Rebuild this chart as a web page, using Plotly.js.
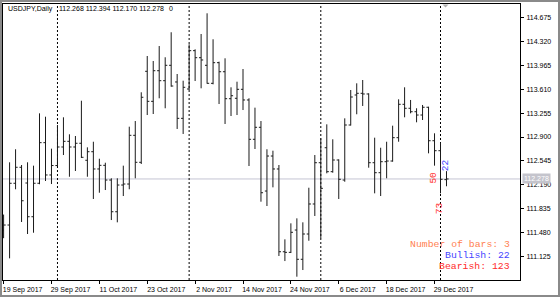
<!DOCTYPE html>
<html>
<head>
<meta charset="utf-8">
<script src="https://cdn.plot.ly/plotly-3.0.1.min.js"></script>
<style>
  html, body { margin: 0; padding: 0; background: #fff; }
  #wrap { position: relative; width: 560px; height: 297px; overflow: hidden; }
  #chart { position: absolute; left: 0; top: 0; width: 560px; height: 297px; }
  #frame { position: absolute; left: 0; top: 0; width: 560px; height: 297px; box-sizing: border-box;
           border: 2px solid #8a8a8a; pointer-events: none; }
</style>
</head>
<body>
<div id="wrap"><div id="chart"></div><div id="frame"></div></div>
<script>
// ---------------- DATA ----------------
const symbol = 'USDJPY';
const timeframe = 'Daily';
const headerTail = '0';

const dates = [
  '2017-09-19','2017-09-20','2017-09-21','2017-09-22','2017-09-25','2017-09-26','2017-09-27','2017-09-28','2017-09-29',
  '2017-10-02','2017-10-03','2017-10-04','2017-10-05','2017-10-06','2017-10-09','2017-10-10','2017-10-11','2017-10-12','2017-10-13',
  '2017-10-16','2017-10-17','2017-10-18','2017-10-19','2017-10-20','2017-10-23','2017-10-24','2017-10-25','2017-10-26','2017-10-27',
  '2017-10-30','2017-10-31',
  '2017-11-01','2017-11-02','2017-11-03','2017-11-06','2017-11-07','2017-11-08','2017-11-09','2017-11-10','2017-11-13','2017-11-14',
  '2017-11-15','2017-11-16','2017-11-17','2017-11-20','2017-11-21','2017-11-22','2017-11-23','2017-11-24','2017-11-27','2017-11-28',
  '2017-11-29','2017-11-30',
  '2017-12-01','2017-12-04','2017-12-05','2017-12-06','2017-12-07','2017-12-08','2017-12-11','2017-12-12','2017-12-13','2017-12-14',
  '2017-12-15','2017-12-18','2017-12-19','2017-12-20','2017-12-21','2017-12-22','2017-12-26','2017-12-27','2017-12-28','2017-12-29',
  '2018-01-02','2018-01-03'
];

const openP = [
  111.520,111.595,112.214,112.451,112.218,111.718,112.214,112.816,112.337,
  112.477,112.752,112.836,112.752,112.807,112.555,112.682,112.426,112.480,112.262,
  111.792,112.188,112.203,112.925,112.525,113.874,113.429,113.883,113.735,113.963,
  113.716,113.177,
  113.612,114.180,114.076,113.963,113.696,114.002,113.868,113.468,113.474,113.607,
  113.449,112.866,113.044,112.099,112.618,112.426,111.199,111.190,111.521,111.087,
  111.462,111.907,
  112.519,112.741,112.386,112.559,112.262,113.078,113.523,113.548,113.538,112.519,
  112.371,112.534,112.544,112.890,113.385,113.326,113.275,113.226,113.341,112.845,
  112.697,112.268
];
const highP = [
  111.750,112.525,112.718,112.485,112.525,112.475,113.251,113.201,112.727,
  113.078,113.192,112.940,112.915,113.438,112.747,112.830,112.578,112.519,112.288,
  112.288,112.475,113.053,113.137,113.563,114.101,114.027,114.249,114.082,114.453,
  113.834,113.735,
  114.275,114.200,114.427,114.734,114.349,114.017,114.067,113.637,113.720,113.908,
  113.474,113.335,113.137,112.718,112.697,112.485,111.383,111.620,111.694,111.635,
  112.148,112.633,
  112.881,113.088,112.866,112.569,113.177,113.597,113.696,113.745,113.548,112.890,
  112.741,112.830,113.068,113.459,113.637,113.449,113.326,113.375,113.349,112.955,
  112.816,112.394
];
const lowP = [
  111.400,111.101,112.125,111.640,111.462,111.481,112.200,112.248,112.203,
  112.470,112.633,112.311,112.396,112.589,112.311,111.981,112.074,112.114,111.669,
  111.635,112.025,112.125,112.288,112.500,113.226,113.241,113.474,113.326,113.646,
  113.019,112.945,
  113.597,113.730,113.622,113.690,113.681,113.389,113.093,113.211,113.226,113.300,
  112.470,112.722,111.941,111.877,112.154,111.136,111.061,111.180,110.829,110.928,
  111.362,111.729,
  111.398,112.362,112.371,111.981,112.237,113.070,113.237,113.360,112.445,112.065,
  112.025,112.288,112.534,112.830,113.192,113.251,113.118,113.152,112.658,112.475,
  112.065,112.170
];
const closeP = [
  111.595,112.214,112.451,111.955,111.718,112.214,112.816,112.337,112.477,
  112.752,112.836,112.752,112.807,112.599,112.682,112.426,112.480,112.262,111.792,
  112.188,112.203,112.925,112.525,113.489,113.429,113.883,113.735,113.963,113.656,
  113.177,113.637,
  114.180,114.076,114.042,113.696,114.002,113.868,113.468,113.512,113.607,113.449,
  112.866,113.044,112.074,112.618,112.426,111.199,111.190,111.487,111.087,111.462,
  111.907,112.519,
  112.139,112.386,112.559,112.273,113.078,113.493,113.548,113.538,112.519,112.371,
  112.534,112.544,112.890,113.385,113.326,113.275,113.226,113.341,112.845,112.697,
  112.273,112.278
];

const xTickDates  = ['2017-09-19','2017-09-29','2017-10-11','2017-10-23','2017-11-02','2017-11-14','2017-11-24','2017-12-06','2017-12-18','2017-12-29'];
const xTickLabels = ['19 Sep 2017','29 Sep 2017','11 Oct 2017','23 Oct 2017','2 Nov 2017','14 Nov 2017','24 Nov 2017','6 Dec 2017','18 Dec 2017','29 Dec 2017'];

const yTickVals   = [111.125, 111.480, 111.835, 112.190, 112.545, 112.900, 113.255, 113.610, 113.965, 114.320, 114.675];
const yTickLabels = ['111.125','111.480','111.835','112.190','112.545','112.900','113.255','113.610','113.965','114.320','114.675'];

const separatorDates = ['2017-10-02','2017-11-01','2017-12-01','2018-01-02'];

const statLabels = ['Number of bars', 'Bullish', 'Bearish'];
const statValues = [3, 22, 123];

const countLabels = ['50', '73', '22'];
const countDates  = ['2018-01-02', '2018-01-02', '2018-01-03'];

// ---------------- LAYOUT HELPERS ----------------
const W = 560, H = 297;
const M = { l: 3, r: 40, t: 4, b: 17 };
const PW = W - M.l - M.r, PH = H - M.t - M.b;
const px = x => (x - M.l) / PW;
const py = y => 1 - (y - M.t) / PH;

const last = closeP.length - 1;
const f3 = v => v.toFixed(3);

const trace = {
  type: 'ohlc',
  x: dates,
  open: openP, high: highP, low: lowP, close: closeP,
  increasing: { line: { color: '#1a1a1a', width: 1 } },
  decreasing: { line: { color: '#1a1a1a', width: 1 } },
  tickwidth: 0.35,
  hoverinfo: 'skip',
  showlegend: false
};

const shapes = [];
// current price line
shapes.push({ type: 'line', xref: 'paper', x0: 0, x1: 1, yref: 'y', y0: closeP[last], y1: closeP[last],
  line: { color: '#C4C4D4', width: 1 }, layer: 'below' });
// period separators
separatorDates.forEach(d => shapes.push({ type: 'line', xref: 'x', x0: d, x1: d, yref: 'paper', y0: 0, y1: 1,
  line: { color: '#000', width: 1, dash: '2px,2px' }, layer: 'below' }));
// chart shift marker
shapes.push({ type: 'path', xref: 'paper', yref: 'paper',
  path: `M ${px(442.5)} ${py(4.5)} L ${px(448.5)} ${py(4.5)} L ${px(445.5)} ${py(7.5)} Z`,
  fillcolor: '#B0B0B0', line: { width: 0 } });

const ann = [];
const hdrFont = { family: 'Liberation Sans, Arial, sans-serif', size: 7, color: '#000' };
ann.push({ xref: 'paper', yref: 'paper', x: px(6.5), y: py(9), xanchor: 'left', yanchor: 'middle',
  text: symbol + ',' + timeframe, showarrow: false, font: hdrFont, borderpad: 0 });
ann.push({ xref: 'paper', yref: 'paper', x: px(58), y: py(9), xanchor: 'left', yanchor: 'middle',
  text: [openP[last], highP[last], lowP[last], closeP[last]].map(f3).join(' '), showarrow: false, font: hdrFont, borderpad: 0 });
ann.push({ xref: 'paper', yref: 'paper', x: px(167.5), y: py(9), xanchor: 'left', yanchor: 'middle',
  text: headerTail, showarrow: false, font: hdrFont, borderpad: 0 });

// price label on the axis
ann.push({ xref: 'paper', yref: 'y', x: 1, xshift: 2, y: closeP[last], xanchor: 'left', yanchor: 'middle',
  text: f3(closeP[last]), showarrow: false, bgcolor: '#C4C4CC', borderpad: 1,
  font: { family: 'Liberation Sans, Arial, sans-serif', size: 7, color: '#ffffff' } });

// statistics
const statColors = ['#FF7F50', '#4646FF', '#FF2A2A'];
const statY = [244.3, 255.8, 266.7];
statLabels.forEach((s, k) => ann.push({ xref: 'paper', yref: 'paper', x: px(511), y: py(statY[k]),
  xanchor: 'right', yanchor: 'middle', text: s + ': ' + statValues[k], showarrow: false, borderpad: 0,
  font: { family: 'Liberation Mono, Courier New, monospace', size: 9.8, color: statColors[k] } }));

// vertical counters near the last bars
const monoF = c => ({ family: 'Liberation Mono, Courier New, monospace', size: 9.5, color: c });
const iA = dates.indexOf(countDates[0]), iB = dates.indexOf(countDates[2]);
ann.push({ xref: 'x', yref: 'y', x: countDates[0], y: closeP[iA], xshift: -7.2, yshift: 2,
  text: countLabels[0], textangle: -90, showarrow: false, xanchor: 'center', yanchor: 'middle', font: monoF('#FF2A2A'), borderpad: 0 });
ann.push({ xref: 'x', yref: 'y', x: countDates[1], y: lowP[iA], xshift: -0.2, yshift: -14.5,
  text: countLabels[1], textangle: -90, showarrow: false, xanchor: 'center', yanchor: 'middle', font: monoF('#FF2A2A'), borderpad: 0 });
ann.push({ xref: 'x', yref: 'y', x: countDates[2], y: highP[iB], xshift: -0.2, yshift: 6.2,
  text: countLabels[2], textangle: -90, showarrow: false, xanchor: 'center', yanchor: 'middle', font: monoF('#4646FF'), borderpad: 0 });

const tickFont = { family: 'Liberation Sans, Arial, sans-serif', size: 7, color: '#000' };
const s0 = 3.6, step = 5.985;
const layout = {
  width: W, height: H,
  margin: { l: M.l, r: M.r, t: M.t, b: M.b, pad: 0 },
  paper_bgcolor: '#ffffff', plot_bgcolor: '#ffffff',
  showlegend: false, hovermode: false, dragmode: false,
  xaxis: {
    type: 'category', range: [(0 - s0) / step + 0.5 - 0.5, (PW + M.l - s0) / step],
    tickmode: 'array', tickvals: xTickDates, ticktext: xTickLabels,
    ticks: 'outside', ticklen: 3, tickcolor: '#000', tickwidth: 1,
    tickfont: tickFont, ticklabelshift: 19, ticklabelstandoff: 0,
    showgrid: false, zeroline: false, showline: true, linecolor: '#000', linewidth: 1, mirror: true,
    rangeslider: { visible: false }, fixedrange: true
  },
  yaxis: {
    range: [110.78, 114.872], side: 'right',
    tickmode: 'array', tickvals: yTickVals, ticktext: yTickLabels,
    ticks: 'outside', ticklen: 3, tickcolor: '#000', tickwidth: 1,
    tickfont: tickFont, ticklabelstandoff: 1,
    showgrid: false, zeroline: false, showline: true, linecolor: '#000', linewidth: 1, mirror: true,
    fixedrange: true
  },
  shapes: shapes,
  annotations: ann
};
layout.xaxis.range[0] = (M.l - s0) / step;

Plotly.newPlot('chart', [trace], layout, { staticPlot: true, displayModeBar: false });
</script>
</body>
</html>
